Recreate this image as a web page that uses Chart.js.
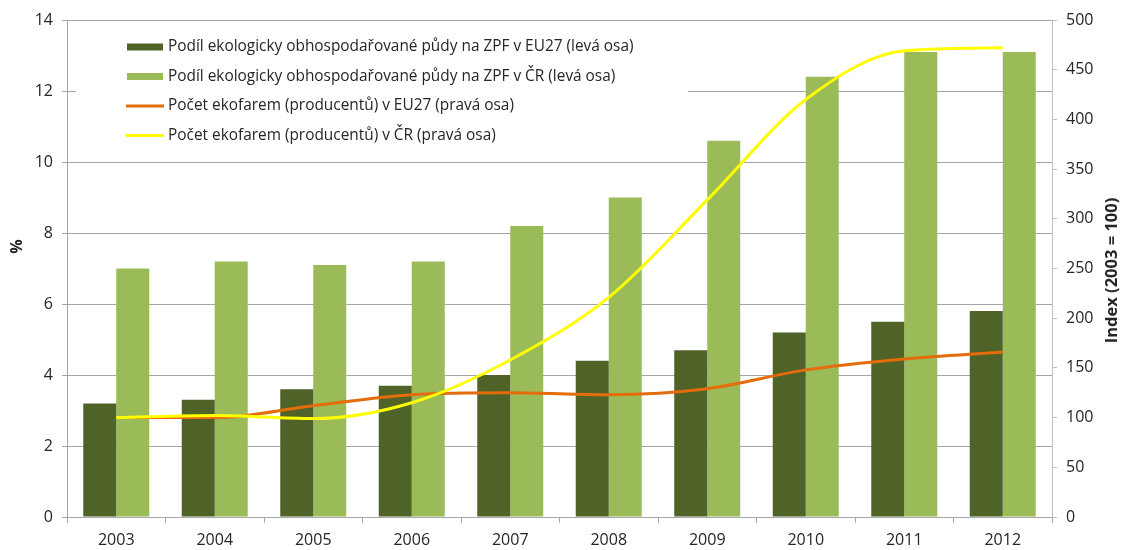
<!DOCTYPE html>
<html>
<head>
<meta charset="utf-8">
<script src="https://cdn.jsdelivr.net/npm/chart.js@4.4.0/dist/chart.umd.min.js"></script>
<style>
  body { margin: 0; background: #fff; }
  canvas { display: block; }
</style>
</head>
<body>
<canvas id="chart" width="1123" height="550"></canvas>
<script>
const years = ['2003', '2004', '2005', '2006', '2007', '2008', '2009', '2010', '2011', '2012'];
// share of organically farmed land in total agricultural land, % (left axis)
const shareEU = [3.2, 3.3, 3.6, 3.7, 4.0, 4.4, 4.7, 5.2, 5.5, 5.8];
const shareCR = [7.0, 7.2, 7.1, 7.2, 8.2, 9.0, 10.6, 12.4, 13.1, 13.1];
// number of organic farms, index 2003 = 100 (right axis)
const farmsEU = [100, 100, 112, 123, 125, 123, 129, 148, 159, 166];
const farmsCR = [100, 102, 99, 115, 158, 221, 319, 420, 469, 472];

const labels = [
    'Podíl ekologicky obhospodařované půdy na ZPF v EU27 (levá osa)',
    'Podíl ekologicky obhospodařované půdy na ZPF v ČR (levá osa)',
    'Počet ekofarem (producentů) v EU27 (pravá osa)',
    'Počet ekofarem (producentů) v ČR (pravá osa)'
];
const leftTitle = '%';
const rightTitle = 'Index (2003 = 100)';

const FONT = '"Open Sans", sans-serif';
const TXT = '#262626';
const GRID = '#a6a6a6';

// legend sits inside the plot on a white box that hides the grid lines
const boxLegend = {
    id: 'boxLegend',
    beforeDatasetsDraw(chart) {
        const ctx = chart.ctx;
        ctx.save();
        ctx.fillStyle = '#fff';
        ctx.fillRect(76, 27, 612, 128);
        ctx.font = '15.4px ' + FONT;
        ctx.textBaseline = 'middle';
        chart.data.datasets.forEach((ds, i) => {
            const y = 47 + i * 29.5;
            if (ds.type === 'line') {
                ctx.strokeStyle = ds.borderColor;
                ctx.lineWidth = 3;
                ctx.beginPath();
                ctx.moveTo(126, y);
                ctx.lineTo(164, y);
                ctx.stroke();
            } else {
                ctx.fillStyle = ds.backgroundColor;
                ctx.fillRect(127, y - 3.5, 36, 7);
            }
            ctx.fillStyle = TXT;
            ctx.fillText(ds.label, 168, y);
        });
        ctx.restore();
    }
};

// both axis titles read bottom-to-top
const axisTitles = {
    id: 'axisTitles',
    afterDraw(chart) {
        const ctx = chart.ctx;
        const mid = (chart.chartArea.top + chart.chartArea.bottom) / 2;
        ctx.save();
        ctx.fillStyle = TXT;
        ctx.textAlign = 'center';
        ctx.textBaseline = 'middle';
        [[17, mid - 22, leftTitle, 16], [1112, mid + 2, rightTitle, 16.5]].forEach(([x, y, t, sz]) => {
            ctx.save();
            ctx.translate(x, y);
            ctx.rotate(-Math.PI / 2);
            ctx.font = 'bold ' + sz + 'px ' + FONT;
            ctx.fillText(t, 0, 0);
            ctx.restore();
        });
        ctx.restore();
    }
};

const ctx = document.getElementById('chart').getContext('2d');
new Chart(ctx, {
    type: 'bar',
    data: {
        labels: years,
        datasets: [
            { label: labels[0], data: shareEU, backgroundColor: '#4f6228', yAxisID: 'y', order: 3,
              categoryPercentage: 0.67, barPercentage: 1 },
            { label: labels[1], data: shareCR, backgroundColor: '#9bbb59', yAxisID: 'y', order: 3,
              categoryPercentage: 0.67, barPercentage: 1 },
            { type: 'line', label: labels[2], data: farmsEU, borderColor: '#e46c0a', borderWidth: 3,
              pointRadius: 0, cubicInterpolationMode: 'monotone', yAxisID: 'y1', order: 2 },
            { type: 'line', label: labels[3], data: farmsCR, borderColor: '#ffff00', borderWidth: 3,
              pointRadius: 0, cubicInterpolationMode: 'monotone', yAxisID: 'y1', order: 1 }
        ]
    },
    options: {
        responsive: false,
        animation: false,
        layout: { padding: { top: 20, left: 0, right: 0, bottom: 0 } },
        plugins: { legend: { display: false }, tooltip: { enabled: false } },
        scales: {
            x: {
                grid: { offset: true, drawOnChartArea: false, drawTicks: true, tickLength: 6, color: GRID },
                border: { color: GRID },
                ticks: { font: { family: FONT, size: 16 }, color: TXT, padding: 8 },
                afterFit(s) { s.height = 33; }
            },
            y: {
                position: 'left',
                min: 0, max: 14,
                ticks: { stepSize: 2, font: { family: FONT, size: 16 }, color: TXT, padding: 9 },
                grid: { color: GRID, tickLength: 5 },
                border: { color: GRID },
                afterFit(s) { s.width = 67; }
            },
            y1: {
                position: 'right',
                min: 0, max: 500,
                ticks: { stepSize: 50, font: { family: FONT, size: 16 }, color: TXT, padding: 9 },
                grid: { drawOnChartArea: false, color: '#bfbfbf', tickLength: 5 },
                border: { color: '#bfbfbf' },
                afterFit(s) { s.width = 71; }
            }
        }
    },
    plugins: [boxLegend, axisTitles]
});
</script>
</body>
</html>
